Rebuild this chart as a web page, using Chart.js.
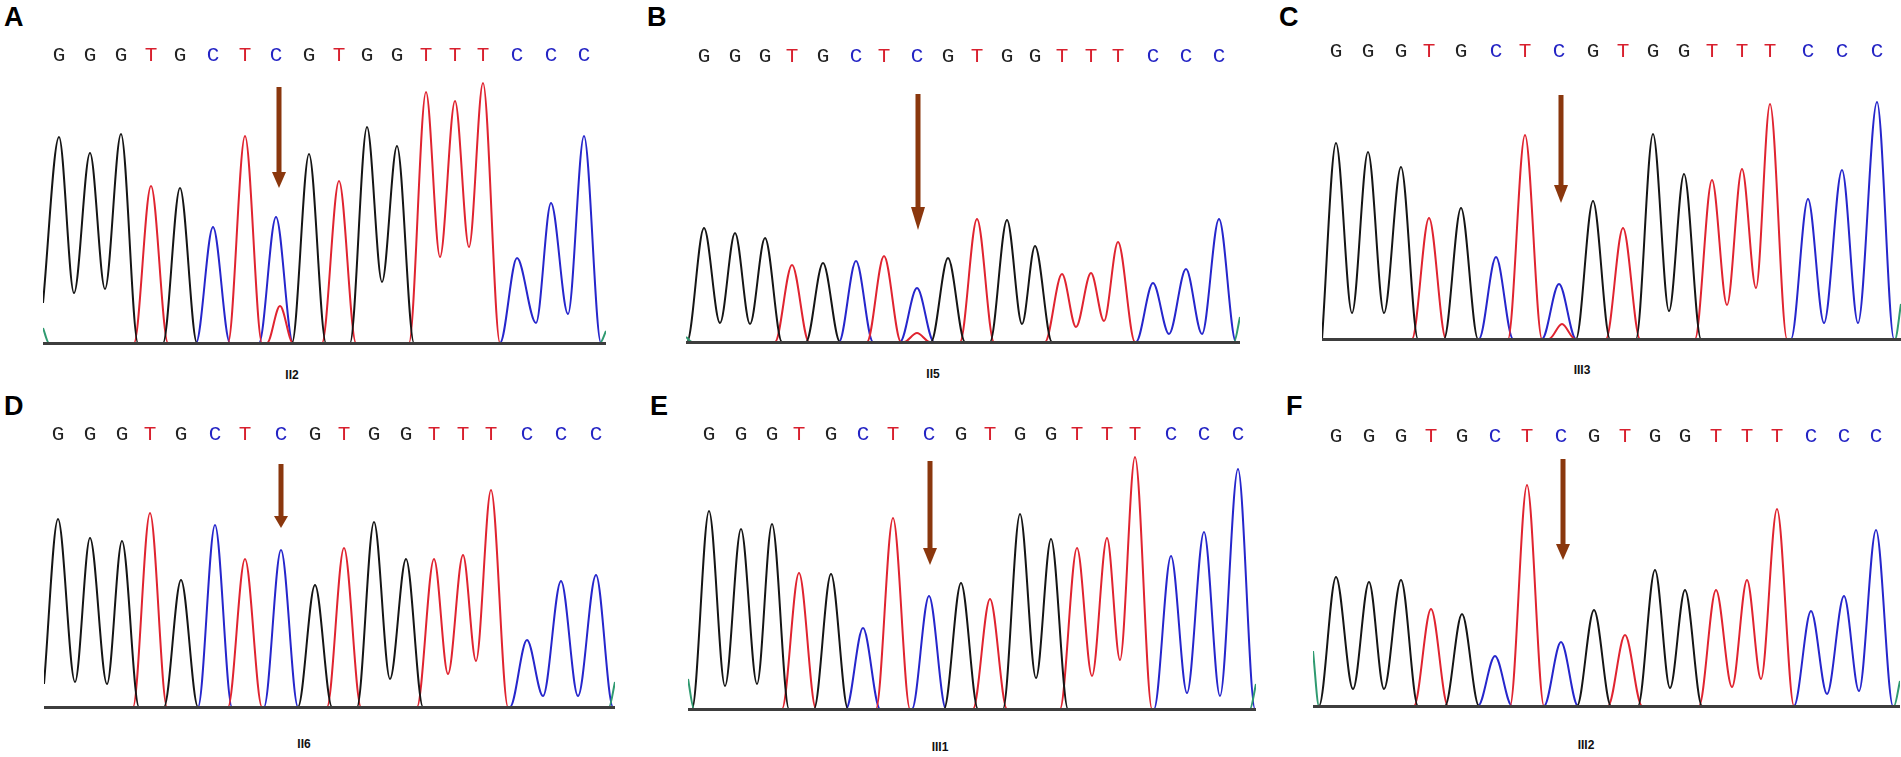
<!DOCTYPE html>
<html>
<head>
<meta charset="utf-8">
<script src="https://cdn.jsdelivr.net/npm/chart.js@4.4.1/dist/chart.umd.min.js"></script>
<style>
  body { margin: 0; background: #fff; width: 1901px; height: 757px; position: relative; overflow: hidden;
         font-family: "Liberation Sans", Arial, sans-serif; }
  .panel { position: absolute; }
  .tag { position: absolute; font-weight: bold; font-size: 27px; line-height: 1; color: #000; }
  .sample { position: absolute; font-weight: bold; font-size: 12px; line-height: 1; color: #111; transform: translate(-50%, -50%); }
</style>
</head>
<body>

<script>
'use strict'

// called bases, same read for every sample
var bases = ['G','G','G','T','G','C','T','C','G','T','G','G','T','T','T','C','C','C'];
var samples = ['II2', 'II5', 'III3', 'II6', 'III1', 'III2'];
var tags = ['A', 'B', 'C', 'D', 'E', 'F'];

// peak positions (scan units from trace start) and peak heights, per sample
var peakPosA = [16, 47, 78, 108, 137, 170, 202, 233, 266, 296, 324, 354, 383, 412, 440, 474, 508, 541];
var peakHtA  = [206, 190, 209, 157, 155, 116, 207, 126, 189, 162, 216, 197, 251, 242, 260, 85, 140, 207];
var peakPosB = [18, 49, 79, 106, 137, 170, 198, 231, 262, 291, 321, 349, 376, 405, 432, 467, 500, 533];
var peakHtB  = [114, 109, 104, 77, 79, 81, 86, 54, 84, 123, 122, 96, 68, 69, 100, 59, 73, 123];
var peakPosC = [14, 46, 79, 107, 139, 174, 203, 237, 271, 301, 331, 362, 390, 420, 448, 486, 520, 555];
var peakHtC  = [196, 187, 172, 121, 131, 82, 204, 55, 138, 111, 205, 165, 159, 170, 235, 140, 169, 237];
var peakPosD = [14, 46, 78, 106, 137, 171, 201, 237, 271, 300, 330, 362, 390, 419, 447, 483, 517, 552];
var peakHtD  = [188, 169, 166, 194, 127, 182, 148, 157, 122, 159, 185, 148, 148, 152, 217, 67, 126, 132];
var peakPosE = [21, 53, 84, 111, 143, 175, 205, 241, 273, 302, 332, 363, 389, 419, 447, 483, 516, 550];
var peakHtE  = [198, 180, 185, 136, 135, 81, 191, 113, 126, 110, 195, 170, 161, 171, 252, 153, 177, 240];
var peakPosF = [23, 56, 88, 118, 149, 182, 214, 248, 281, 312, 342, 372, 403, 434, 464, 498, 531, 563];
var peakHtF  = [129, 124, 126, 97, 92, 50, 221, 64, 96, 71, 136, 116, 116, 126, 197, 95, 110, 176];

// dips between neighbouring peaks of the same base (GG, GG, GG, TT, TT, CC, CC)
var dipPosA = [31, 62, 339, 397, 426, 493, 525];
var dipHtA  = [50, 54, 61, 86, 96, 20, 29];
var dipPosB = [34, 64, 336, 390, 418, 483, 516];
var dipHtB  = [19, 18, 18, 15, 21, 8, 8];
var dipPosC = [30, 62, 347, 405, 434, 502, 536];
var dipHtC  = [26, 26, 28, 34, 51, 16, 16];
var dipPosD = [31, 63, 346, 404, 432, 499, 534];
var dipHtD  = [25, 23, 28, 33, 46, 11, 11];
var dipPosE = [37, 69, 348, 404, 432, 499, 532];
var dipHtE  = [23, 25, 31, 33, 49, 16, 13];
var dipPosF = [40, 71, 357, 419, 448, 514, 546];
var dipHtF  = [17, 17, 18, 19, 27, 12, 15];

// small T signal under the mutated C, black level at trace start, green tails
var minorPos = [237, 231, 240, null, null, null];
var minorHt  = [37, 9, 15, null, null, null];
var startHt  = [40, 0, 0, 23, 0, 0];
var greenLeft  = [15, 5, 0, 0, 30, 55];
var greenRight = [12, 25, 35, 25, 25, 25];

var peakPos = [peakPosA, peakPosB, peakPosC, peakPosD, peakPosE, peakPosF];
var peakHt  = [peakHtA, peakHtB, peakHtC, peakHtD, peakHtE, peakHtF];
var dipPos  = [dipPosA, dipPosB, dipPosC, dipPosD, dipPosE, dipPosF];
var dipHt   = [dipHtA, dipHtB, dipHtC, dipHtD, dipHtE, dipHtF];

// layout of each panel on the page
var layout = [
  {left: 43,   width: 563, baseline: 343, seqHt: 288, arrow: [236, 256, 171, 155], tagX: 4,    tagY: 4,   sampleX: 292,  sampleY: 375},
  {left: 686,  width: 554, baseline: 342, seqHt: 286, arrow: [232, 248, 135, 112], tagX: 647,  tagY: 4,   sampleX: 933,  sampleY: 374},
  {left: 1322, width: 579, baseline: 339, seqHt: 288, arrow: [239, 244, 154, 136], tagX: 1279, tagY: 4,   sampleX: 1582, sampleY: 370},
  {left: 44,   width: 571, baseline: 707, seqHt: 273, arrow: [237, 243, 191, 179], tagX: 4,    tagY: 393, sampleX: 304,  sampleY: 744},
  {left: 688,  width: 568, baseline: 709, seqHt: 275, arrow: [242, 248, 161, 144], tagX: 650,  tagY: 393, sampleX: 940,  sampleY: 747},
  {left: 1313, width: 587, baseline: 706, seqHt: 270, arrow: [250, 247, 162, 146], tagX: 1286, tagY: 393, sampleX: 1586, sampleY: 745}
];

var traceColor = {G: '#151515', T: '#e02430', C: '#2626cc'};
var letterColor = {G: '#222222', T: '#d8202e', C: '#2424c4'};
var footWidth = 17;
var plotHeight = 320;

// which dip index belongs after base i
var dipAfter = [];
var k = 0;
for (var i = 0; i < bases.length - 1; i++) {
  if (bases[i] === bases[i + 1]) { dipAfter[i] = k; k++; }
}

function buildTrace(base, n) {
  var pos = peakPos[n], ht = peakHt[n];
  var pts = [];
  var first = true;
  for (var i = 0; i < bases.length; i++) {
    if (bases[i] !== base) continue;
    var prevSame = i > 0 && bases[i - 1] === base;
    var nextSame = i < bases.length - 1 && bases[i + 1] === base;
    if (first) {
      var h0 = base === 'G' ? startHt[n] : 0;
      pts.push({x: 0, y: h0});
      if (h0 === 0 && pos[i] - footWidth > 0) pts.push({x: pos[i] - footWidth, y: 0});
      first = false;
    } else if (!prevSame) {
      pts.push({x: pos[i] - footWidth, y: 0});
    }
    pts.push({x: pos[i], y: ht[i]});
    if (nextSame) {
      pts.push({x: dipPos[n][dipAfter[i]], y: dipHt[n][dipAfter[i]]});
    } else {
      pts.push({x: pos[i] + footWidth, y: 0});
    }
  }
  if (base === 'T' && minorPos[n] !== null) {
    pts.push({x: minorPos[n] - 13, y: 0});
    pts.push({x: minorPos[n], y: minorHt[n]});
    pts.push({x: minorPos[n] + 13, y: 0});
  }
  pts.push({x: layout[n].width, y: 0});
  pts.sort(function(a, b) { return a.x - b.x; });
  // drop points that fall on top of each other after sorting
  var out = [];
  pts.forEach(function(p) {
    if (out.length && Math.abs(out[out.length - 1].x - p.x) < 0.5) {
      out[out.length - 1].y = Math.max(out[out.length - 1].y, p.y);
    } else out.push(p);
  });
  return out;
}

function greenTrace(n) {
  var w = layout[n].width;
  return [
    {x: 0, y: greenLeft[n]}, {x: 6, y: 0},
    {x: w - 6, y: 0}, {x: w, y: greenRight[n]}
  ];
}

function makePlugin(n) {
  var L = layout[n];
  return {
    id: 'chrom' + n,
    afterDatasetsDraw: function(chart) {
      var ctx = chart.ctx;
      var xs = chart.scales.x, ys = chart.scales.y;
      var area = chart.chartArea;
      ctx.save();
      // baseline
      ctx.fillStyle = '#3d3d3d';
      ctx.fillRect(area.left, ys.getPixelForValue(0) - 1, area.right - area.left, 3);
      // base calls
      ctx.font = '21px "Liberation Mono", "DejaVu Sans Mono", monospace';
      ctx.textAlign = 'center';
      ctx.textBaseline = 'middle';
      for (var i = 0; i < bases.length; i++) {
        ctx.fillStyle = letterColor[bases[i]];
        ctx.fillText(bases[i], xs.getPixelForValue(peakPos[n][i]), ys.getPixelForValue(L.seqHt));
      }
      // arrow at the mutated position
      var ax = xs.getPixelForValue(L.arrow[0]);
      var yTop = ys.getPixelForValue(L.arrow[1]);
      var yHead = ys.getPixelForValue(L.arrow[2]);
      var yTip = ys.getPixelForValue(L.arrow[3]);
      ctx.fillStyle = '#8a370d';
      ctx.fillRect(ax - 2.5, yTop, 5, yHead - yTop + 1);
      ctx.beginPath();
      ctx.moveTo(ax - 7, yHead);
      ctx.lineTo(ax + 7, yHead);
      ctx.lineTo(ax, yTip);
      ctx.closePath();
      ctx.fill();
      ctx.restore();
    }
  };
}

layout.forEach(function(L, n) {
  var div = document.createElement('div');
  div.className = 'panel';
  div.style.left = L.left + 'px';
  div.style.top = (L.baseline - plotHeight) + 'px';
  var canvas = document.createElement('canvas');
  canvas.width = L.width;
  canvas.height = plotHeight + 10;
  div.appendChild(canvas);
  document.body.appendChild(div);

  var tag = document.createElement('div');
  tag.className = 'tag';
  tag.textContent = tags[n];
  tag.style.left = L.tagX + 'px';
  tag.style.top = L.tagY + 'px';
  document.body.appendChild(tag);

  var lab = document.createElement('div');
  lab.className = 'sample';
  lab.textContent = samples[n];
  lab.style.left = L.sampleX + 'px';
  lab.style.top = L.sampleY + 'px';
  document.body.appendChild(lab);

  new Chart(canvas, {
    type: 'line',
    data: {
      datasets: [
        {label: 'green', data: greenTrace(n), borderColor: '#2f9a70'},
        {label: 'G', data: buildTrace('G', n), borderColor: traceColor.G},
        {label: 'T', data: buildTrace('T', n), borderColor: traceColor.T},
        {label: 'C', data: buildTrace('C', n), borderColor: traceColor.C}
      ]
    },
    options: {
      responsive: false,
      animation: false,
      layout: {padding: {bottom: 10}},
      elements: {
        point: {radius: 0},
        line: {borderWidth: 2, cubicInterpolationMode: 'monotone', fill: false}
      },
      scales: {
        x: {type: 'linear', min: 0, max: L.width, display: false},
        y: {min: 0, max: plotHeight, display: false}
      },
      plugins: {legend: {display: false}, tooltip: {enabled: false}}
    },
    plugins: [makePlugin(n)]
  });
});
</script>
</body>
</html>
